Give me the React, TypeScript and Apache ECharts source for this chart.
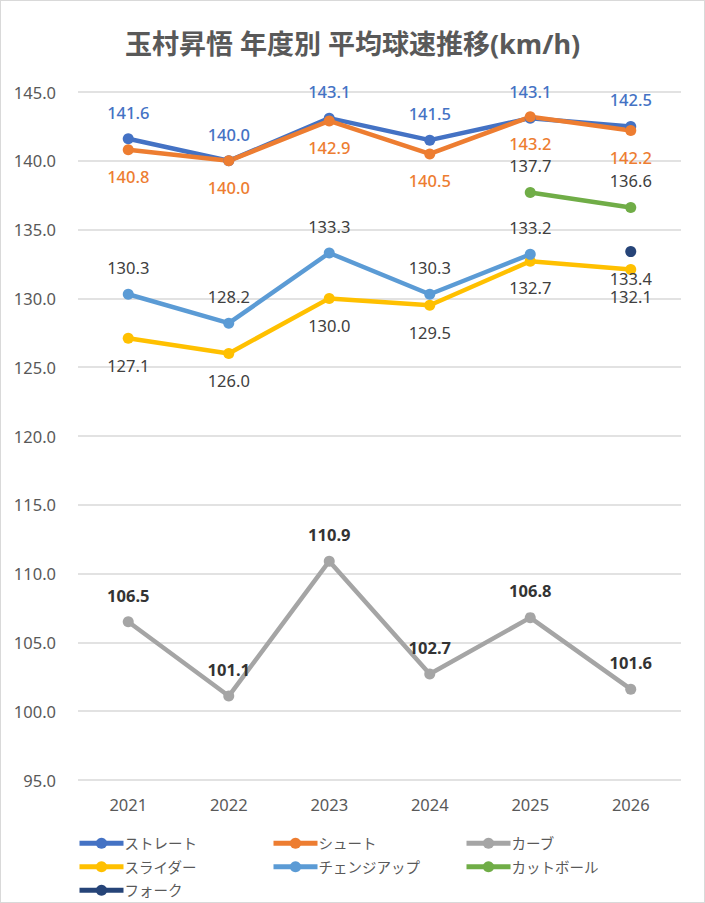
import React, { useEffect, useRef } from 'react';
import * as echarts from 'echarts';

const years = ['2021', '2022', '2023', '2024', '2025', '2026'];

const straight = [141.6, 140.0, 143.1, 141.5, 143.1, 142.5];
const shoot = [140.8, 140.0, 142.9, 140.5, 143.2, 142.2];
const curve = [106.5, 101.1, 110.9, 102.7, 106.8, 101.6];
const slider = [127.1, 126.0, 130.0, 129.5, 132.7, 132.1];
const changeup = [130.3, 128.2, 133.3, 130.3, 133.2, null];
const cutBall = [null, null, null, null, 137.7, 136.6];
const fork = [null, null, null, null, null, 133.4];

const FONT = "'Noto Sans', 'Noto Sans CJK JP', sans-serif";

type SeriesDef = {
  name: string;
  data: (number | null)[];
  color: string;
  labelPos: 'top' | 'bottom';
  labelColor: string;
  labelWeight: string | number;
};

const seriesDefs: SeriesDef[] = [
  { name: 'ストレート', data: straight, color: '#4472C4', labelPos: 'top', labelColor: '#4472C4', labelWeight: 500 },
  { name: 'シュート', data: shoot, color: '#ED7D31', labelPos: 'bottom', labelColor: '#ED7D31', labelWeight: 500 },
  { name: 'カーブ', data: curve, color: '#A5A5A5', labelPos: 'top', labelColor: '#333333', labelWeight: 'bold' },
  { name: 'スライダー', data: slider, color: '#FFC000', labelPos: 'bottom', labelColor: '#404040', labelWeight: 'normal' },
  { name: 'チェンジアップ', data: changeup, color: '#5B9BD5', labelPos: 'top', labelColor: '#404040', labelWeight: 'normal' },
  { name: 'カットボール', data: cutBall, color: '#70AD47', labelPos: 'top', labelColor: '#404040', labelWeight: 'normal' },
  { name: 'フォーク', data: fork, color: '#264478', labelPos: 'bottom', labelColor: '#404040', labelWeight: 'normal' },
];

const legendColumns = [
  { left: 76, names: ['ストレート', 'スライダー', 'フォーク'] },
  { left: 270, names: ['シュート', 'チェンジアップ'] },
  { left: 463, names: ['カーブ', 'カットボール'] },
];

export default function App() {
  const chartRef = useRef<HTMLDivElement>(null);

  useEffect(() => {
    if (!chartRef.current) return;
    const myChart = echarts.init(chartRef.current, null, { renderer: 'svg' });

    const option = {
      animation: false,
      backgroundColor: '#ffffff',
      title: {
        text: '玉村昇悟 年度別 平均球速推移(km/h)',
        left: 'center',
        top: 24,
        textStyle: { color: '#595959', fontSize: 27, fontWeight: 'bold', fontFamily: FONT },
      },
      grid: { left: 77, right: 23, top: 91, bottom: 122 },
      legend: legendColumns.map(col => ({
        orient: 'vertical',
        left: col.left,
        top: 835,
        padding: 0,
        height: 70,
        itemWidth: 44,
        itemHeight: 14,
        itemGap: 9,
        data: col.names,
        lineStyle: { width: 5 },
        textStyle: { color: '#595959', fontSize: 14.5, fontFamily: FONT, padding: [0, 0, 0, -4] },
        selectedMode: false,
      })),
      xAxis: {
        type: 'category',
        data: years,
        boundaryGap: true,
        axisLine: { show: false },
        axisTick: { show: false },
        axisLabel: { color: '#595959', fontSize: 16.5, fontFamily: FONT, margin: 16 },
      },
      yAxis: {
        type: 'value',
        min: 95,
        max: 145,
        interval: 5,
        axisLine: { show: false },
        axisTick: { show: false },
        splitLine: { lineStyle: { color: '#d9d9d9', width: 1.5 } },
        axisLabel: {
          color: '#595959',
          fontSize: 16.5,
          fontFamily: FONT,
          margin: 22,
          formatter: (v: number) => v.toFixed(1),
        },
      },
      series: seriesDefs.map(s => ({
        name: s.name,
        type: 'line',
        data: s.data,
        connectNulls: false,
        symbol: 'circle',
        symbolSize: 11,
        itemStyle: { color: s.color },
        lineStyle: { color: s.color, width: 4.5 },
        label: {
          show: true,
          position: s.labelPos,
          distance: 13,
          color: s.labelColor,
          fontSize: 16.5,
          fontWeight: s.labelWeight,
          fontFamily: FONT,
          formatter: (p: any) => Number(p.value).toFixed(1),
        },
      })),
    };

    myChart.setOption(option);
    return () => {
      myChart.dispose();
    };
  }, []);

  return (
    <div
      style={{
        position: 'absolute',
        left: 0,
        top: 0,
        width: 705,
        height: 903,
        boxSizing: 'border-box',
        border: '1px solid #d9d9d9',
      }}
    >
      <div ref={chartRef} style={{ width: '100%', height: '100%' }} />
    </div>
  );
}
